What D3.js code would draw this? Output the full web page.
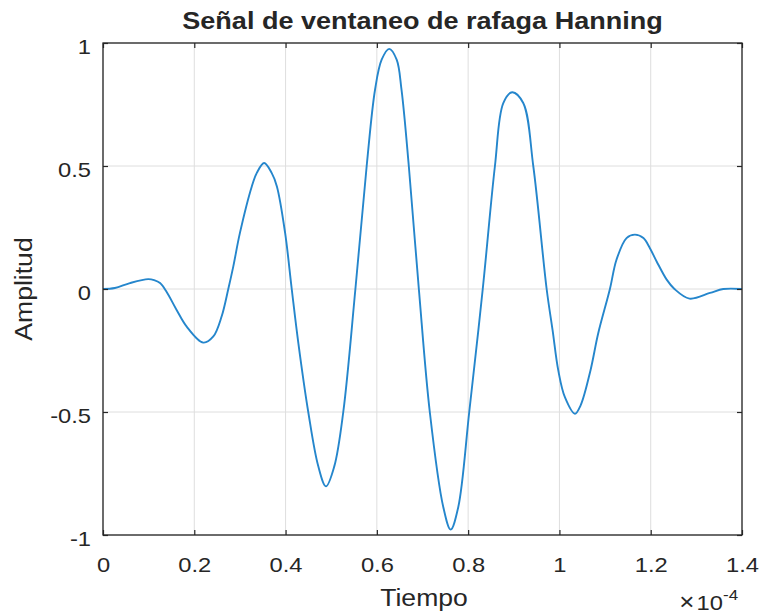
<!DOCTYPE html>
<html>
<head>
<meta charset="utf-8">
<script src="https://cdn.jsdelivr.net/npm/d3@7"></script>
<style>
  html, body { margin: 0; padding: 0; background: #ffffff; }
  svg { display: block; }
  text { font-family: "Liberation Sans", Arial, Helvetica, sans-serif; fill: #262626; }
</style>
</head>
<body>
<svg id="chart" width="760" height="614"></svg>
<script>
// Tiempo in units of 1e-4 s, amplitude of the Hanning-windowed burst
const tiempo = [
  0, 0.026, 0.059, 0.099, 0.112, 0.125, 0.1395, 0.161, 0.183, 0.2197,
  0.2417, 0.260, 0.2745, 0.2855, 0.300, 0.326, 0.337, 0.353, 0.3695, 0.381,
  0.399, 0.4135, 0.428, 0.4497, 0.4717, 0.4885, 0.5067, 0.5264, 0.553, 0.5777,
  0.596, 0.6105, 0.627, 0.6434, 0.654, 0.670, 0.692, 0.716, 0.7455, 0.7617,
  0.7784, 0.8024, 0.832, 0.8587, 0.877, 0.8966, 0.9207, 0.9427, 0.972, 0.985,
  0.9975, 1.012, 1.034, 1.0464, 1.068, 1.085, 1.1106, 1.125, 1.147, 1.1654,
  1.184, 1.198, 1.213, 1.235, 1.252, 1.285, 1.33, 1.359, 1.4
];
const amplitud = [
  0, 0.004, 0.024, 0.040, 0.036, 0.024, -0.012, -0.084, -0.152, -0.218,
  -0.193, -0.111, 0, 0.092, 0.228, 0.417, 0.472, 0.512, 0.472, 0.417,
  0.228, 0, -0.22, -0.5, -0.721, -0.802, -0.721, -0.5, 0, 0.5,
  0.81, 0.932, 0.976, 0.932, 0.81, 0.5, 0, -0.5, -0.886, -0.978,
  -0.886, -0.5, 0, 0.5, 0.756, 0.80, 0.756, 0.5, 0, -0.167,
  -0.331, -0.44, -0.507, -0.473, -0.331, -0.18, 0, 0.119, 0.207, 0.221,
  0.207, 0.167, 0.112, 0.038, 0, -0.039, -0.016, 0, 0
];

const xTicks = [0, 0.2, 0.4, 0.6, 0.8, 1, 1.2, 1.4];
const yTicks = [-1, -0.5, 0, 0.5, 1];

const titulo = "Señal de ventaneo de rafaga Hanning";
const etiquetaX = "Tiempo";
const etiquetaY = "Amplitud";

const svg = d3.select("#chart");
const W = 760, H = 614;
const m = { left: 103, top: 43, right: 18, bottom: 79 };
const iw = W - m.left - m.right;
const ih = H - m.top - m.bottom;
const SX = 1.13;          // horizontal glyph widening used for all labels
const axisColor = "#262626";
const gridColor = "#dedede";

svg.append("rect").attr("width", W).attr("height", H).attr("fill", "#fff");

const x = d3.scaleLinear().domain([0, 1.4]).range([0, iw]);
const y = d3.scaleLinear().domain([-1, 1]).range([ih, 0]);

const g = svg.append("g").attr("transform", `translate(${m.left},${m.top})`);

// grid
g.append("g").selectAll("line").data(xTicks).join("line")
  .attr("x1", d => x(d)).attr("x2", d => x(d))
  .attr("y1", 0).attr("y2", ih)
  .attr("stroke", gridColor).attr("stroke-width", 1);
g.append("g").selectAll("line").data(yTicks).join("line")
  .attr("x1", 0).attr("x2", iw)
  .attr("y1", d => y(d)).attr("y2", d => y(d))
  .attr("stroke", gridColor).attr("stroke-width", 1);

// signal
const line = d3.line()
  .x((d, i) => x(tiempo[i]))
  .y(d => y(d))
  .curve(d3.curveCatmullRom.alpha(0.5));
g.append("path")
  .datum(amplitud)
  .attr("fill", "none")
  .attr("stroke", "#2586cc")
  .attr("stroke-width", 1.9)
  .attr("stroke-linejoin", "round")
  .attr("d", line);

// axes with inward ticks on all four sides
const fmt = d => String(d);
const tickLen = 5;

const gx = g.append("g").attr("transform", `translate(0,${ih})`)
  .call(d3.axisBottom(x).tickValues(xTicks).tickFormat(fmt)
    .tickSizeInner(-tickLen).tickSizeOuter(0).tickPadding(0));
gx.selectAll("text")
  .attr("y", 37).attr("dy", null)
  .attr("transform", `scale(${SX},1)`)
  .style("font-size", "21px");

const gy = g.append("g")
  .call(d3.axisLeft(y).tickValues(yTicks).tickFormat(fmt)
    .tickSizeInner(-tickLen).tickSizeOuter(0).tickPadding(0));
gy.selectAll("text")
  .attr("x", -12 / SX).attr("dy", "0.5em")
  .attr("transform", `scale(${SX},1)`)
  .style("font-size", "21px");

g.append("g")
  .call(d3.axisTop(x).tickValues(xTicks).tickFormat("")
    .tickSizeInner(-tickLen).tickSizeOuter(0));
g.append("g").attr("transform", `translate(${iw},0)`)
  .call(d3.axisRight(y).tickValues(yTicks).tickFormat("")
    .tickSizeInner(-tickLen).tickSizeOuter(0));

g.selectAll(".domain").remove();
g.selectAll(".tick line").attr("stroke", axisColor).attr("stroke-width", 1.2);
g.selectAll(".tick text").attr("fill", axisColor).style("font-family", null);

// axes box
g.append("rect")
  .attr("x", 0).attr("y", 0).attr("width", iw).attr("height", ih)
  .attr("fill", "none").attr("stroke", axisColor).attr("stroke-width", 1.3);

// title
svg.append("text")
  .attr("transform", `translate(${m.left + iw / 2},28.5) scale(1.15,1)`)
  .attr("text-anchor", "middle")
  .style("font-size", "23.5px").style("font-weight", "bold")
  .attr("fill", "#000")
  .text(titulo);

// axis labels
svg.append("text")
  .attr("transform", `translate(${m.left + iw / 2 + 1.5},606) scale(${SX},1)`)
  .attr("text-anchor", "middle")
  .style("font-size", "23.5px")
  .text(etiquetaX);

svg.append("text")
  .attr("transform", `translate(31.5,${m.top + ih / 2}) rotate(-90) scale(${SX},1)`)
  .attr("text-anchor", "middle")
  .style("font-size", "23.5px")
  .text(etiquetaY);

// exponent marker for the time axis
svg.append("text")
  .attr("transform", `translate(723,610) scale(${SX},1)`)
  .attr("text-anchor", "end")
  .style("font-size", "21px")
  .html('<tspan style="font-size:23px" dx="0">×</tspan><tspan dx="2">10</tspan>');
svg.append("text")
  .attr("transform", `translate(723,600) scale(${SX},1)`)
  .attr("text-anchor", "start")
  .style("font-size", "15px")
  .text("-4");
</script>
</body>
</html>
